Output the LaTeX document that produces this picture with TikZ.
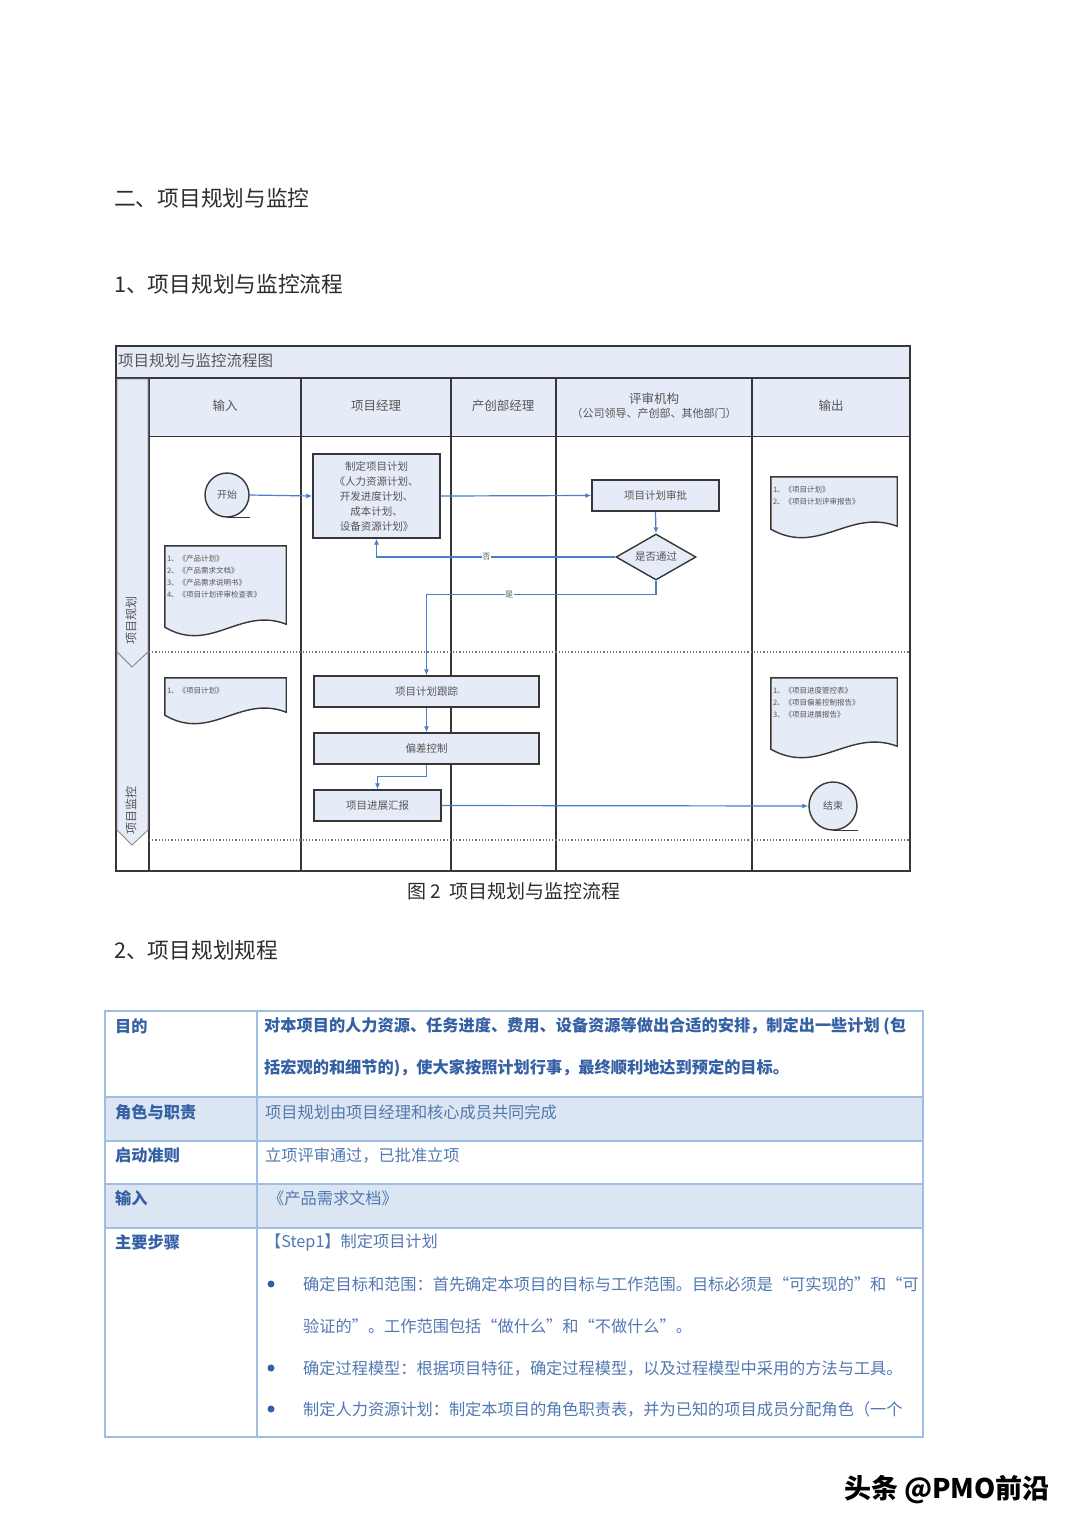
\documentclass[tikz,border=0pt]{standalone}
\usepackage{fontspec}
\setmainfont{Noto Sans CJK SC}
\usepackage{tikz}
\usetikzlibrary{arrows.meta, shapes.geometric, calc, positioning}

\definecolor{laneblue}{RGB}{230,236,247}
\definecolor{flowblue}{RGB}{74,126,200}
\definecolor{framegray}{RGB}{55,55,55}
\definecolor{txtgray}{RGB}{85,85,85}
\definecolor{headgray}{RGB}{45,45,45}
\definecolor{tabline}{RGB}{160,190,226}
\definecolor{tabfill}{RGB}{220,230,243}
\definecolor{tabtext}{RGB}{52,96,164}

\tikzset{
  lanebox/.style={draw=framegray, line width=1.4pt, fill=laneblue, text=txtgray,
    font=\fontsize{10.5}{15}\selectfont, align=center, inner sep=2pt},
  termcircle/.style={circle, draw=framegray, line width=1.4pt, fill=laneblue, text=txtgray,
    font=\fontsize{10}{12}\selectfont, inner sep=0pt},
  decbox/.style={diamond, draw=framegray, line width=1.4pt, fill=laneblue, text=txtgray,
    font=\fontsize{10.5}{12}\selectfont, inner sep=0pt, aspect=1.7},
  docframe/.style={inner sep=0pt},
  doctext/.style={anchor=north west, align=left, text=txtgray, inner sep=1pt,
    font=\fontsize{7.5}{12}\selectfont},
  flow/.style={draw=flowblue, line width=1.2pt, -{Latex[length=6pt,width=5pt]}},
  flowlbl/.style={fill=white, inner sep=0.5pt, text=txtgray, font=\fontsize{8}{8}\selectfont},
  headtxt/.style={text=txtgray, font=\fontsize{12.5}{16}\selectfont, align=center},
  phasetxt/.style={text=txtgray, font=\fontsize{12}{12}\selectfont},
  lanerule/.style={draw=framegray, line width=1.8pt},
  tabrule/.style={draw=tabline, line width=1.4pt},
  tablbl/.style={anchor=west, text=tabtext, font=\fontsize{16.2}{16}\selectfont\bfseries, inner sep=0pt},
  tabtxt/.style={anchor=west, text=tabtext!85!white, font=\fontsize{16.2}{16}\selectfont, inner sep=0pt},
  heading/.style={anchor=west, text=headgray, font=\fontsize{21.7}{21}\selectfont, inner sep=0pt}
}

% wavy document outline round an empty frame node
\newcommand{\docpage}[1]{%
  \draw[draw=framegray, line width=1.4pt, fill=laneblue]
    (#1.north west) -- (#1.north east) -- ($(#1.south east)+(0,-8)$)
    .. controls ($(#1.south west)!.62!(#1.south east)+(0,-26)$)
    and ($(#1.south west)!.38!(#1.south east)+(0,22)$) ..
    ($(#1.south west)+(0,-5)$) -- cycle;}

\begin{document}
\begin{tikzpicture}[x=1pt, y=-1pt]
  \useasboundingbox[fill=white] (0,0) rectangle (1080,1527);

  % headings
  \node[heading] (secTitle) at (114,198) {二、项目规划与监控};
  \node[heading] (subTitle) at (114,284) {1、项目规划与监控流程};

  % swimlane frame
  \fill[laneblue] (117,347) rectangle (909,378);
  \fill[laneblue] (149,379) rectangle (909,436);
  \draw[lanerule] (116,346) rectangle (910,871);
  \draw[lanerule] (116,378) -- (910,378);
  \draw[framegray, line width=1pt] (149,436) -- (910,436);
  \foreach \x in {149,301,451,556,752}
    \draw[lanerule] (\x,378) -- (\x,871);
  \draw[framegray!70, line width=1.2pt, dotted] (149,652) -- (910,652);
  \draw[framegray!70, line width=1.2pt, dotted] (149,840) -- (910,840);

  \node[anchor=west, text=txtgray, font=\fontsize{15.5}{15}\selectfont, inner sep=0pt]
    (chartTitle) at (118,361) {项目规划与监控流程图};

  % phase chevrons
  \draw[framegray!60, line width=0.8pt, fill=laneblue]
    (117,379) -- (148,379) -- (148,652) -- (132,667) -- (117,652) -- cycle;
  \draw[framegray!60, line width=0.8pt, fill=laneblue]
    (117,652) -- (132,667) -- (148,652) -- (148,830) -- (132,845) -- (117,830) -- cycle;
  \node[phasetxt, rotate=90] (phPlan) at (131,620) {项目规划};
  \node[phasetxt, rotate=90] (phCtrl) at (131,810) {项目监控};

  % lane headers
  \node[headtxt] (hInput) at (225,406) {输入};
  \node[headtxt] (hPM) at (376,406) {项目经理};
  \node[headtxt] (hDept) at (503,406) {产创部经理};
  \node[headtxt] (hReview) at (654,406) {评审机构\\[-2pt]{\fontsize{11}{12}\selectfont （公司领导、产创部、其他部门）}};
  \node[headtxt] (hOutput) at (831,406) {输出};

  % planning phase
  \node[termcircle, minimum size=44pt] (start) at (227,495) {开始};
  \draw[framegray, line width=1.4pt] (start.south) -- ++(23,0);
  \node[lanebox, minimum width=127pt, minimum height=84pt] (plan) at (376.5,496)
    {制定项目计划\\《人力资源计划、\\开发进度计划、\\成本计划、\\设备资源计划》};
  \node[lanebox, minimum width=127pt, minimum height=31pt] (approve) at (655.5,495.5) {项目计划审批};
  \node[decbox, minimum width=80pt, minimum height=46pt] (dec) at (656,557) {是否通过};

  \node[docframe, minimum width=121pt, minimum height=86pt] (inDocA) at (225.5,589) {};
  \docpage{inDocA}
  \node[doctext] (inDocAtxt) at ($(inDocA.north west)+(1,8)$)
    {1、《产品计划》\\2、《产品需求文档》\\3、《产品需求说明书》\\4、《项目计划评审检查表》};

  \node[docframe, minimum width=126pt, minimum height=57pt] (outDocA) at (834,505.5) {};
  \docpage{outDocA}
  \node[doctext] (outDocAtxt) at ($(outDocA.north west)+(1,8)$)
    {1、《项目计划》\\2、《项目计划评审报告》};

  % monitoring phase
  \node[lanebox, minimum width=225pt, minimum height=31pt] (track) at (426.5,691.5) {项目计划跟踪};
  \node[lanebox, minimum width=225pt, minimum height=31pt] (dev) at (426.5,748.5) {偏差控制};
  \node[lanebox, minimum width=127pt, minimum height=31pt] (report) at (377.5,805.5) {项目进展汇报};
  \node[termcircle, minimum size=48pt] (end) at (833,806) {结束};
  \draw[framegray, line width=1.4pt] (end.south) -- ++(25,0);

  \node[docframe, minimum width=121pt, minimum height=42pt] (inDocB) at (225.5,699) {};
  \docpage{inDocB}
  \node[doctext] (inDocBtxt) at ($(inDocB.north west)+(1,8)$) {1、《项目计划》};

  \node[docframe, minimum width=126pt, minimum height=76pt] (outDocB) at (834,716) {};
  \docpage{outDocB}
  \node[doctext] (outDocBtxt) at ($(outDocB.north west)+(1,8)$)
    {1、《项目进度管控表》\\2、《项目偏差控制报告》\\3、《项目进展报告》};

  % connectors
  \draw[flow] (start.east) -- (plan.west);
  \draw[flow] (plan.east) -- (approve.west);
  \draw[flow] (approve.south) -- (dec.north);
  \draw[flow] (dec.west) -| node[flowlbl, pos=0.27] (lblNo) {否} (plan.south);
  \draw[flow] (dec.south) -- ++(0,14) coordinate (yesTurn)
    -| node[flowlbl, pos=0.32] (lblYes) {是} (track.north);
  \draw[flow] (track.south) -- (dev.north);
  \draw[flow] (dev.south) -- ++(0,12) coordinate (devTurn) -| (report.north);
  \draw[flow] (report.east) -- (end.west);

  \node[text=headgray, font=\fontsize{19}{19}\selectfont] (caption) at (514,891)
    {图 2\ \ 项目规划与监控流程};

  \node[heading] (subTitleB) at (114,950) {2、项目规划规程};

  % table
  \fill[tabfill] (105,1097) rectangle (923,1141);
  \fill[tabfill] (105,1184) rectangle (923,1228);
  \draw[tabrule] (105,1011) rectangle (923,1437);
  \foreach \y in {1097,1141,1184,1228}
    \draw[tabrule] (105,\y) -- (923,\y);
  \draw[tabrule] (257,1011) -- (257,1437);

  \node[tablbl] (lAim) at (115,1026) {目的};
  \node[tablbl] (tAimA) at (264,1026)
    {对本项目的人力资源、任务进度、费用、设备资源等做出合适的安排，制定出一些计划 (包};
  \node[tablbl] (tAimB) at (264,1068)
    {括宏观的和细节的)，使大家按照计划行事，最终顺利地达到预定的目标。};
  \node[tablbl] (lRole) at (115,1112) {角色与职责};
  \node[tabtxt] (tRole) at (265,1112) {项目规划由项目经理和核心成员共同完成};
  \node[tablbl] (lStart) at (115,1155) {启动准则};
  \node[tabtxt] (tStart) at (265,1155) {立项评审通过，已批准立项};
  \node[tablbl] (lIn) at (115,1198) {输入};
  \node[tabtxt] (tIn) at (268,1198) {《产品需求文档》};
  \node[tablbl] (lSteps) at (115,1242) {主要步骤};
  \node[tabtxt] (tStep) at (265,1242) {【Step1】制定项目计划};
  \foreach \y/\nm in {1284/bA,1368/bB,1409/bC}
    \node[circle, fill=tabtext, inner sep=0pt, minimum size=7pt] (\nm) at (271,\y) {};
  \node[tabtxt] (tStepA) at (303,1284) {确定目标和范围：首先确定本项目的目标与工作范围。目标必须是“可实现的”和“可};
  \node[tabtxt] (tStepAb) at (303,1326) {验证的”。工作范围包括“做什么”和“不做什么”。};
  \node[tabtxt] (tStepB) at (303,1368) {确定过程模型：根据项目特征，确定过程模型，以及过程模型中采用的方法与工具。};
  \node[tabtxt] (tStepC) at (303,1409) {制定人力资源计划：制定本项目的角色职责表，并为已知的项目成员分配角色（一个};

  \node[text=black, font=\fontsize{27}{27}\selectfont\bfseries] (footer) at (947,1490) {头条 @PMO前沿};
\end{tikzpicture}
\end{document}
